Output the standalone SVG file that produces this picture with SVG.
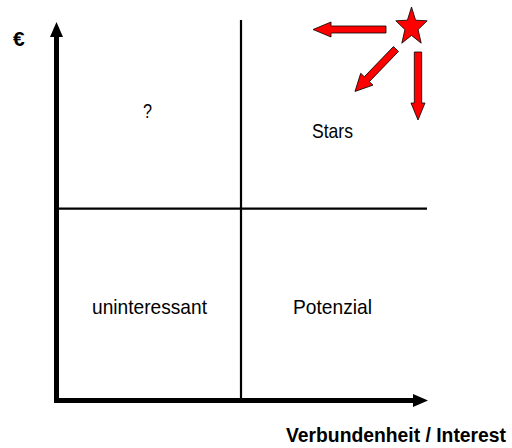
<svg xmlns="http://www.w3.org/2000/svg" width="512" height="448" viewBox="0 0 512 448">
<style>
.t{font-family:"Liberation Sans",Arial,sans-serif;font-size:21px;fill:#000}
.b{font-weight:bold}
.xl{font-size:19.5px}
.red{fill:#ff0000;stroke:#000;stroke-width:0.8;stroke-linejoin:miter}
.ax{stroke:#000;stroke-width:5;fill:none}
.dv{stroke:#000;stroke-width:2.2;fill:none}
</style>
<rect width="512" height="448" fill="#fff"/>
<g id="connectors">
<line class="dv" x1="241" y1="20" x2="241" y2="399"/>
<line class="dv" x1="57" y1="208.7" x2="427" y2="208.7"/>
<line class="ax" x1="56.5" y1="403" x2="56.5" y2="34"/>
<polygon points="56.5,22 50,37 63,37" fill="#000"/>
<line class="ax" x1="54" y1="400.5" x2="416" y2="400.5"/>
<polygon points="428,400.5 413,394 413,407" fill="#000"/>
</g>
<g id="axis-y-label"><text class="t b" x="13" y="46">€</text></g>
<g id="axis-x-label"><text class="t b xl" x="286" y="442" textLength="220" lengthAdjust="spacingAndGlyphs">Verbundenheit / Interest</text></g>
<g id="q-top-left"><text class="t" x="143" y="118" textLength="9" lengthAdjust="spacingAndGlyphs">?</text></g>
<g id="q-top-right"><text class="t" x="312" y="138" textLength="41" lengthAdjust="spacingAndGlyphs">Stars</text></g>
<g id="q-bottom-left"><text class="t" x="92" y="314" textLength="115" lengthAdjust="spacingAndGlyphs">uninteressant</text></g>
<g id="q-bottom-right"><text class="t" x="293" y="314" textLength="79" lengthAdjust="spacingAndGlyphs">Potenzial</text></g>
<g id="star">
<polygon class="red" points="411.5,7 415.6,20.2 427.2,20.8 418.1,29.6 421.2,43.2 411.5,35.4 401.8,43.2 404.9,29.6 395.8,20.8 407.4,20.2"/>
</g>
<g id="arrow-left"><polygon class="red" points="386,26 331,26 331,22 313,29.5 331,37 331,33 386,33"/></g>
<g id="arrow-diag"><polygon class="red" transform="translate(396,49) rotate(134)" points="0,-3.5 42,-3.5 42,-8.5 59,0 42,8.5 42,3.5 0,3.5"/></g>
<g id="arrow-down"><polygon class="red" points="414.3,52 421.7,52 421.7,103 425,103 418,120 411,103 414.3,103"/></g>
</svg>
